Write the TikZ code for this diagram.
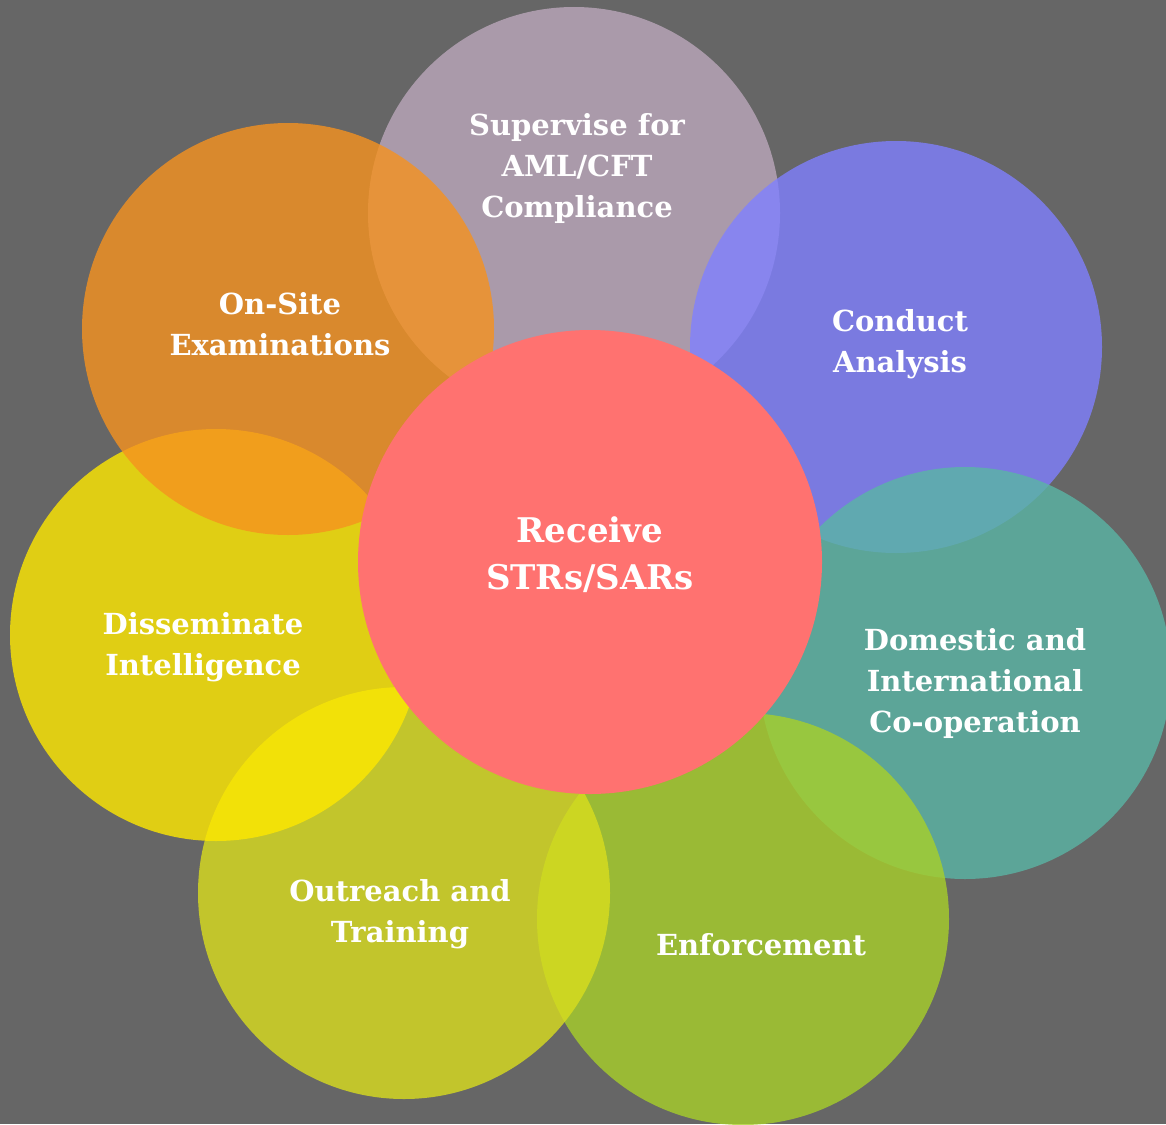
\documentclass[tikz,border=0pt]{standalone}
\usepackage{fontspec}
\setmainfont{DejaVu Serif}
\usepackage{tikz}
\usetikzlibrary{positioning}
\definecolor{bggray}{RGB}{102,102,102}
\definecolor{supcol}{RGB}{188,168,188}
\definecolor{condcol}{RGB}{128,128,255}
\definecolor{domcol}{RGB}{90,181,165}
\definecolor{enfcol}{RGB}{168,208,41}
\definecolor{outcol}{RGB}{217,221,30}
\definecolor{discol}{RGB}{255,232,0}
\definecolor{onscol}{RGB}{246,146,31}
\definecolor{reccol}{RGB}{255,114,112}
\tikzset{
	petal/.style={circle, minimum size=412pt, inner sep=0pt, fill opacity=0.8},
	petaltext/.style={text=white, align=center, font=\bfseries\fontsize{29}{41}\selectfont},
	hubtext/.style={text=white, align=center, font=\bfseries\fontsize{34}{47}\selectfont}
}

\begin{document}
\begin{tikzpicture}[x=1pt,y=-1pt]
	\fill [bggray] (0,0) rectangle (1166,1124);
	\useasboundingbox (0,0) rectangle (1166,1124);
	\clip (0,0) rectangle (1166,1124);
	\node [petal, fill=supcol] (sup) at (574,213) {};
	\node [petal, fill=condcol] (cond) at (896,347) {};
	\node [petal, fill=domcol] (dom) at (965,673) {};
	\node [petal, fill=enfcol] (enf) at (743,919) {};
	\node [petal, fill=outcol] (out) at (404,893) {};
	\node [petal, fill=discol] (dis) at (216,635) {};
	\node [petal, fill=onscol] (ons) at (288,329) {};
	\node [circle, minimum size=464pt, inner sep=0pt, fill=reccol] (rec) at (590,562) {};
	\node [hubtext] (rectext) at (590,555) {Receive\\STRs/SARs};
	\node [petaltext] (suptext) at (577,168) {Supervise for\\AML/CFT\\Compliance};
	\node [petaltext] (condtext) at (900,344) {Conduct\\Analysis};
	\node [petaltext] (domtext) at (975,683) {Domestic and\\International\\Co-operation};
	\node [petaltext] (enftext) at (761,945) {Enforcement};
	\node [petaltext] (outtext) at (400,914) {Outreach and\\Training};
	\node [petaltext] (distext) at (203,647) {Disseminate\\Intelligence};
	\node [petaltext] (onstext) at (280,324) {On-Site\\Examinations};
\end{tikzpicture}
\end{document}
